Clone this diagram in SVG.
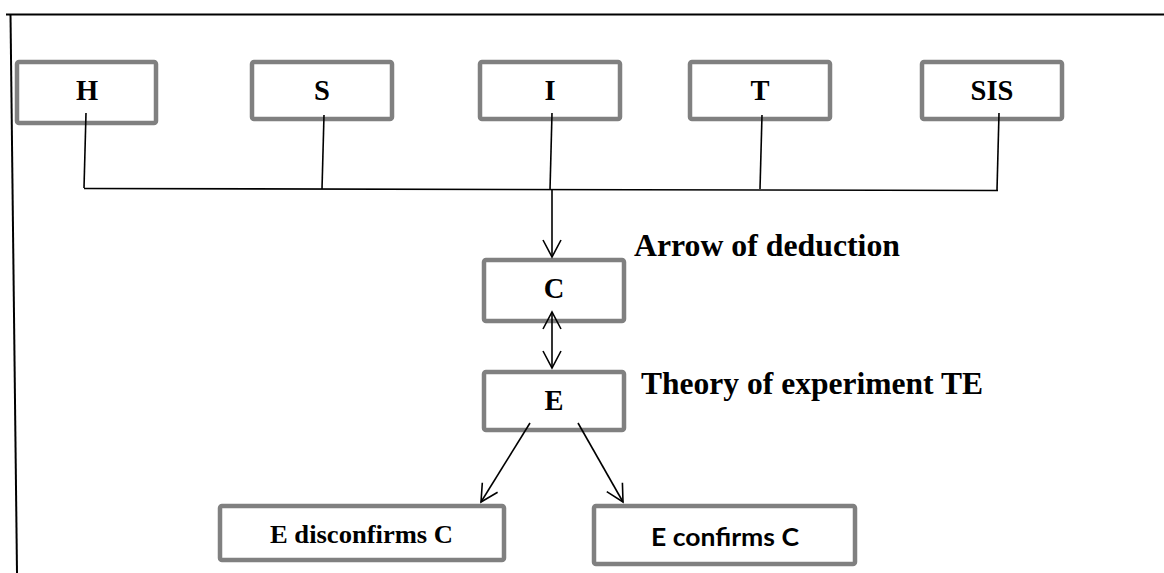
<svg xmlns="http://www.w3.org/2000/svg" width="1164" height="573" viewBox="0 0 1164 573">
<style>
.box{fill:#fff;stroke:#808080;stroke-width:4.5}
.t{font-family:"Liberation Serif","Times New Roman",serif;font-weight:bold;fill:#000}
.c{font-family:Lato,"Open Sans","Liberation Sans",sans-serif;font-weight:bold;fill:#000}
.ln{stroke:#000;stroke-width:1.6;fill:none}
</style>
<defs>
<marker id="ah" markerUnits="userSpaceOnUse" viewBox="-19 -11 21 22" markerWidth="21" markerHeight="22" refX="0" refY="0" orient="auto-start-reverse">
<path d="M-17,-9 L0,0 L-17,9" fill="none" stroke="#000" stroke-width="1.6"/>
</marker>
</defs>
<g id="frame">
<line x1="6" y1="14.5" x2="1164" y2="14.5" stroke="#000" stroke-width="2"/>
<line x1="10.5" y1="14" x2="17" y2="573" stroke="#000" stroke-width="2"/>
</g>
<g id="node-H"><rect class="box" x="17" y="62" width="139" height="61" rx="2"/><text class="t" x="87" y="100" font-size="28.5" text-anchor="middle">H</text></g>
<g id="node-S"><rect class="box" x="252" y="62" width="140" height="57" rx="2"/><text class="t" x="322" y="100" font-size="28.5" text-anchor="middle">S</text></g>
<g id="node-I"><rect class="box" x="480" y="62" width="140" height="57" rx="2"/><text class="t" x="550" y="100" font-size="28.5" text-anchor="middle">I</text></g>
<g id="node-T"><rect class="box" x="690" y="62" width="140" height="57" rx="2"/><text class="t" x="760" y="100" font-size="28.5" text-anchor="middle">T</text></g>
<g id="node-SIS"><rect class="box" x="922" y="62" width="140" height="57" rx="2"/><text class="t" x="992" y="100" font-size="28.5" text-anchor="middle">SIS</text></g>
<g id="node-C"><rect class="box" x="484" y="260" width="140" height="61" rx="2"/><text class="t" x="554" y="298" font-size="28.5" text-anchor="middle">C</text></g>
<g id="node-E"><rect class="box" x="484" y="372" width="140" height="58" rx="2"/><text class="t" x="554" y="410" font-size="28.5" text-anchor="middle">E</text></g>
<g id="node-disconfirms"><rect class="box" x="220" y="506" width="284" height="54" rx="2"/><text class="t" x="270" y="543" font-size="26" textLength="183" lengthAdjust="spacingAndGlyphs">E disconfirms C</text></g>
<g id="node-confirms"><rect class="box" x="594" y="506" width="261" height="58" rx="2"/><text class="c" x="651" y="546" font-size="24" textLength="148" lengthAdjust="spacingAndGlyphs">E confirms C</text></g>
<g id="connectors">
<line class="ln" x1="86" y1="113" x2="84" y2="188"/>
<line class="ln" x1="324" y1="115" x2="322" y2="189"/>
<line class="ln" x1="552" y1="113" x2="550" y2="190"/>
<line class="ln" x1="762" y1="115" x2="760" y2="189"/>
<line class="ln" x1="999" y1="113" x2="997" y2="190"/>
<line class="ln" x1="84" y1="188.5" x2="998" y2="190.5"/>
<line class="ln" x1="552" y1="189" x2="552" y2="257" marker-end="url(#ah)"/>
<line class="ln" x1="552" y1="312" x2="552" y2="368" marker-start="url(#ah)" marker-end="url(#ah)"/>
<line class="ln" x1="530" y1="423" x2="481" y2="502" marker-end="url(#ah)"/>
<line class="ln" x1="578" y1="423" x2="623" y2="502" marker-end="url(#ah)"/>
</g>
<g id="labels">
<text class="t" x="634" y="256" font-size="30.5" textLength="266" lengthAdjust="spacingAndGlyphs">Arrow of deduction</text>
<text class="t" x="641" y="394" font-size="30.5" textLength="342" lengthAdjust="spacingAndGlyphs">Theory of experiment TE</text>
</g>
</svg>
